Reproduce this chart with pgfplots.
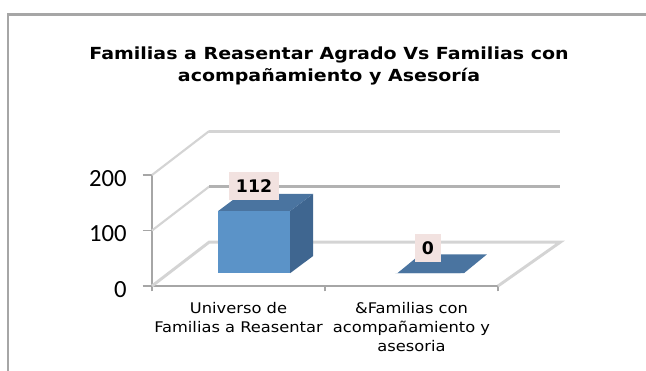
\documentclass[border=0pt]{standalone}
\usepackage{pgfplots}
\pgfplotsset{compat=1.18}
\usepackage{fontspec}
\setmainfont{DejaVu Sans}
\newfontfamily\tickfont{Carlito}
\definecolor{gridc}{HTML}{D4D4D4}
\definecolor{gridm}{HTML}{B2B2B2}
\definecolor{axc}{HTML}{A6A6A6}
\definecolor{front}{HTML}{5B93C8}
\definecolor{topf}{HTML}{4A74A0}
\definecolor{sidef}{HTML}{3F6690}
\definecolor{lab}{HTML}{F2E2E0}
\begin{document}
\begin{tikzpicture}[x=0.75pt,y=0.75pt]
\path[use as bounding box] (0,0) rectangle (646,371);
\draw[color=axc,line width=2.2pt] (8,0) -- (8,356.5) -- (646,356.5);
\node[font=\bfseries\fontsize{12.5}{16.5}\selectfont,align=center,xscale=1.14,transform shape] at (329,305)
  {Familias a Reasentar Agrado Vs Familias con\\acompañamiento y Asesoría};
\begin{axis}[
  at={(114pt,63.75pt)},anchor=origin,
  x=129.75pt,y=0.41625pt,
  xmin=0,xmax=2,ymin=0,ymax=200,
  clip=false,
  axis lines=left,
  axis line style={draw=axc,line width=1.6pt,-},
  xtick={0.5,1.5},
  xticklabels={{Universo de\\Familias a Reasentar},{\&Familias con\\acompañamiento y\\asesoria}},
  minor xtick={0,1,2},
  ytick={0,100,200},
  tick align=outside,
  major x tick style={draw=none},
  minor x tick style={draw=axc,line width=1.2pt},
  y tick style={draw=axc,line width=1.2pt},
  major tick length=7pt,
  minor tick length=4pt,
  yticklabel style={font=\tickfont\fontsize{18.5}{18.5}\selectfont,xshift=-8.5pt,yshift=-2.5pt},
  /pgf/number format/assume math mode=true,
  xticklabel style={font=\fontsize{11}{14.25}\selectfont,align=center,xscale=1.11,transform shape,yshift=-1.5pt},
]
% back-wall and side grid lines
\addplot[draw=gridc,line width=2.2pt,forget plot] coordinates {(0,0)(0.33,79)(2.36,79)(2,0)};
\addplot[draw=gridc,line width=1.6pt,forget plot] coordinates {(0,100)(0.33,179)};
\addplot[draw=gridm,line width=2.2pt,forget plot] coordinates {(0.33,179)(2.36,179)};
\addplot[draw=gridc,line width=1.6pt,forget plot] coordinates {(0,200)(0.33,279)};
\addplot[draw=gridc,line width=2.2pt,forget plot] coordinates {(0.33,279)(2.36,279)};
% first bar: side and top faces
\addplot[draw=none,fill=sidef,forget plot] coordinates {(0.798,23)(0.931,54)(0.931,166)(0.798,135)} -- cycle;
\addplot[draw=none,fill=topf,forget plot] coordinates {(0.382,135)(0.515,166)(0.931,166)(0.798,135)} -- cycle;
% second bar: top face (value 0)
\addplot[draw=none,fill=topf,forget plot] coordinates {(1.418,23)(1.551,57)(1.936,57)(1.803,23)} -- cycle;
% front faces with value labels
\addplot[ybar,bar width=54pt,draw=none,fill=front,yshift=9.75pt,
  nodes near coords,
  every node near coord/.style={fill=lab,inner xsep=5.2pt,inner ysep=0pt,minimum height=21pt,text=black,
    font=\bfseries\fontsize{13}{13}\selectfont,anchor=center,yshift=18.75pt},
] coordinates {(0.59,112)};
\addplot[ybar,bar width=49pt,draw=none,fill=topf,yshift=9.75pt,
  nodes near coords,
  every node near coord/.style={fill=lab,inner xsep=5.2pt,inner ysep=0pt,minimum height=21pt,text=black,
    font=\bfseries\fontsize{13}{13}\selectfont,anchor=center,yshift=18.75pt},
] coordinates {(1.595,0)};
\end{axis}
\end{tikzpicture}
\end{document}
